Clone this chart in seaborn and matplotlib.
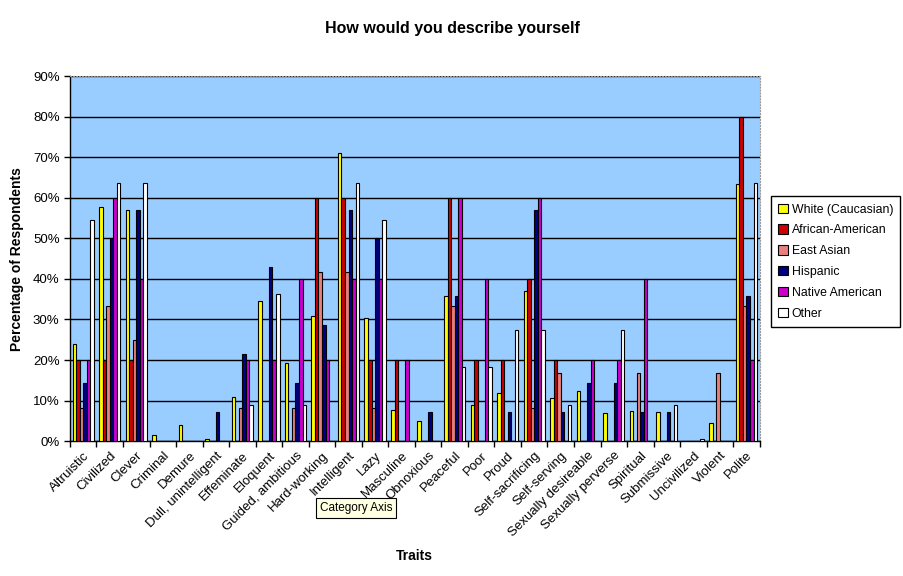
import matplotlib
matplotlib.use("Agg")
import matplotlib.pyplot as plt
import pandas as pd
import seaborn as sns
from matplotlib.ticker import PercentFormatter, FixedLocator

traits = [
    "Altruistic", "Civilized", "Clever", "Criminal", "Demure",
    "Dull, unintelligent", "Effeminate", "Eloquent", "Guided, ambitious",
    "Hard-working", "Intelligent", "Lazy", "Masculine", "Obnoxious",
    "Peaceful", "Poor", "Proud", "Self-sacrificing", "Self-serving",
    "Sexually desireable", "Sexually perverse", "Spiritual", "Submissive",
    "Uncivilized", "Violent", "Polite",
]
groups = ["White (Caucasian)", "African-American", "East Asian",
          "Hispanic", "Native American", "Other"]

# percentages
white = [24.0, 57.7, 57.1, 1.5, 4.0, 0.5, 11.0, 34.6, 19.2, 30.8, 71.0, 30.4, 7.7,
         5.0, 35.7, 9.0, 12.0, 37.0, 10.7, 12.3, 6.9, 7.4, 7.1, 0.0, 4.5, 63.3]
african_american = [20.0, 20.0, 20.0, 0, 0, 0, 0, 0, 0, 60.0, 60.0, 20.0, 20.0,
                    0, 60.0, 20.0, 20.0, 40.0, 20.0, 0, 0, 0, 0, 0, 0, 80.0]
east_asian = [8.3, 33.3, 25.0, 0, 0, 0, 8.3, 0, 8.3, 41.7, 41.7, 8.3, 0,
              0, 33.3, 0, 0, 8.3, 16.7, 0, 0, 16.7, 0, 0, 16.7, 33.3]
hispanic = [14.3, 50.0, 57.1, 0, 0, 7.1, 21.4, 42.9, 14.3, 28.6, 57.1, 50.0, 0,
            7.1, 35.7, 0, 7.1, 57.1, 7.1, 14.3, 14.3, 7.1, 7.1, 0, 0, 35.7]
native_american = [20.0, 60.0, 40.0, 0, 0, 0, 20.0, 20.0, 40.0, 20.0, 40.0, 40.0, 20.0,
                   0, 60.0, 40.0, 0, 60.0, 0, 20.0, 20.0, 40.0, 0, 0, 0, 20.0]
other = [54.5, 63.6, 63.6, 0, 0, 0, 9.0, 36.4, 9.0, 0, 63.6, 54.5, 0,
         0, 18.2, 18.2, 27.3, 27.3, 9.0, 0, 27.3, 0, 9.0, 0.5, 0, 63.6]

colors = ["#FFFF00", "#CC0000", "#E88080", "#000080", "#CC00CC", "#FFFFFF"]

series = [white, african_american, east_asian, hispanic, native_american, other]
rows = []
for g, vals in zip(groups, series):
    for t, v in zip(traits, vals):
        rows.append({"trait": t, "group": g, "pct": v / 100})
df = pd.DataFrame(rows)

sns.set_style("white")
plt.rcParams["font.family"] = ["Liberation Sans", "DejaVu Sans"]
plt.rcParams["text.color"] = "black"
plt.rcParams["axes.labelcolor"] = "black"
plt.rcParams["xtick.color"] = "black"
plt.rcParams["ytick.color"] = "black"

fig = plt.figure(figsize=(9.04, 5.76), dpi=100)
ax = fig.add_axes([0.0774, 0.234, 0.763, 0.634])
ax.set_facecolor("#99CCFF")

sns.barplot(
    data=df, x="trait", y="pct", hue="group", order=traits, hue_order=groups,
    palette=colors, saturation=1, width=0.8, edgecolor="black", linewidth=0.8,
    ax=ax, zorder=3,
)

ax.set_ylim(0, 0.9)
ax.set_xlim(-0.5, len(traits) - 0.5)
ax.set_yticks([i / 10 for i in range(10)])
ax.yaxis.set_major_formatter(PercentFormatter(1, decimals=0))
ax.yaxis.grid(True, color="black", linewidth=1)
ax.set_axisbelow(True)
ax.tick_params(axis="y", left=True, length=4, width=1, labelsize=9.5, direction="out")

ax.set_xticks(range(len(traits)))
ax.set_xticklabels(traits, rotation=45, ha="right", rotation_mode="anchor", fontsize=9.5)
ax.tick_params(axis="x", which="major", length=0, pad=6)
ax.xaxis.set_minor_locator(FixedLocator([i - 0.5 for i in range(len(traits) + 1)]))
ax.tick_params(axis="x", which="minor", bottom=True, length=4, width=1, direction="out")

for side in ["left", "bottom"]:
    ax.spines[side].set_color("black")
    ax.spines[side].set_linewidth(1)
for side in ["top", "right"]:
    ax.spines[side].set_color("#999999")
    ax.spines[side].set_linestyle(":")

ax.set_xlabel("Traits", fontsize=10, fontweight="bold", labelpad=7)
ax.set_ylabel("Percentage of Respondents", fontsize=10, fontweight="bold", labelpad=6)
fig.text(0.5, 0.951, "How would you describe yourself", ha="center", va="center",
         fontsize=11.5, fontweight="bold")

handles, labels = ax.get_legend_handles_labels()
ax.legend(handles, labels, loc="upper left", bbox_to_anchor=(1.016, 0.671),
          borderaxespad=0, frameon=True, fancybox=False, edgecolor="black",
          framealpha=1, fontsize=8.8, handlelength=0.8, handleheight=0.8,
          handletextpad=0.3, labelspacing=0.72, borderpad=0.6)

fig.text(0.354, 0.118, "Category Axis", fontsize=8.5, ha="left", va="center",
         bbox=dict(boxstyle="square,pad=0.3", facecolor="#FFFFE1", edgecolor="black", linewidth=0.8))

fig.savefig("out.png", dpi=100)
